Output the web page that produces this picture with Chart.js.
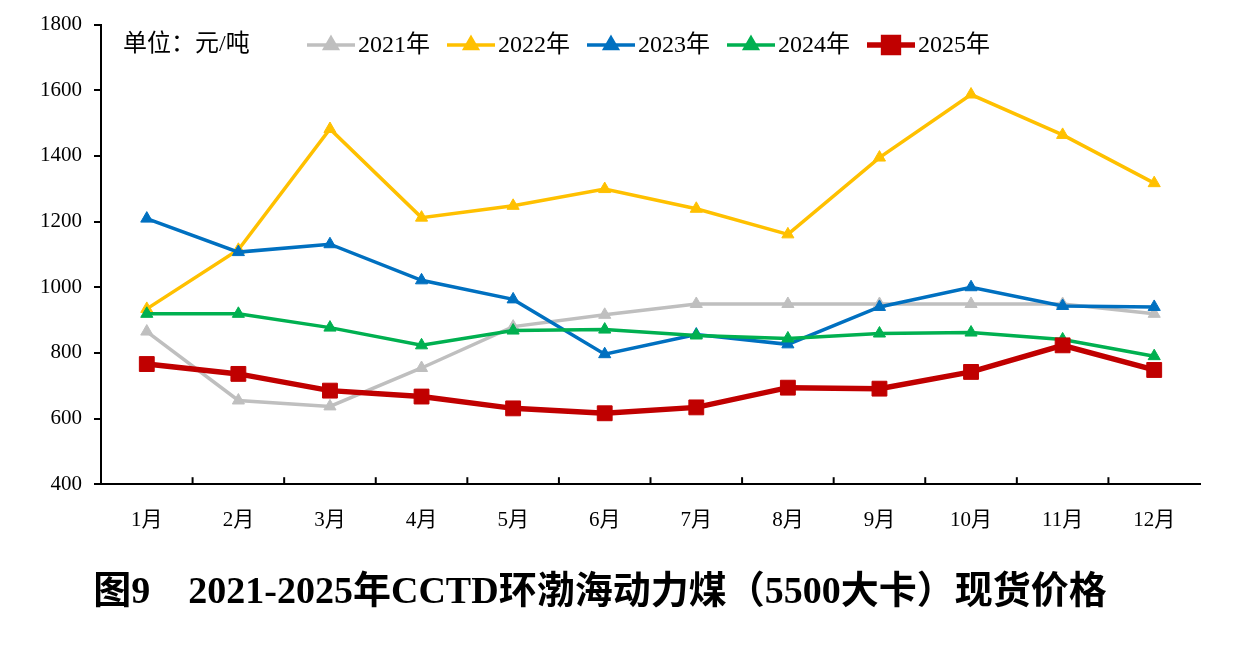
<!DOCTYPE html>
<html>
<head>
<meta charset="utf-8">
<script src="https://cdn.jsdelivr.net/npm/chart.js@4.4.1/dist/chart.umd.min.js"></script>
<style>
  html, body { margin: 0; padding: 0; background: #fff; }
  #wrap { width: 1235px; height: 661px; }
</style>
</head>
<body>
<div id="wrap"><canvas id="chart" width="1235" height="661"></canvas></div>
<script>
const months = ['1月', '2月', '3月', '4月', '5月', '6月', '7月', '8月', '9月', '10月', '11月', '12月'];
const seriesNames = ['2021年', '2022年', '2023年', '2024年', '2025年'];
const y2021 = [865, 655, 637, 754, 880, 916, 949, 949, 949, 949, 949, 919];
const y2022 = [934, 1114, 1482, 1212, 1248, 1299, 1239, 1161, 1395, 1587, 1464, 1317];
const y2023 = [1209, 1107, 1131, 1021, 963, 796, 856, 826, 940, 1000, 943, 940];
const y2024 = [919, 919, 877, 823, 868, 871, 853, 844, 859, 862, 841, 790];
const y2025 = [766, 736, 685, 667, 631, 616, 634, 694, 691, 742, 823, 748];
const yTicks = [400, 600, 800, 1000, 1200, 1400, 1600, 1800];
const unitLabel = '单位：元/吨';
const chartTitle = '图9　2021-2025年CCTD环渤海动力煤（5500大卡）现货价格';

const FONT = "'Liberation Serif', 'Noto Sans CJK SC', serif";
const colors = ['#BFBFBF', '#FFC000', '#0070C0', '#00B050', '#C00000'];
const allData = [y2021, y2022, y2023, y2024, y2025];

const datasets = allData.map((d, i) => {
  const last = i === 4;
  return {
    label: seriesNames[i],
    data: d,
    borderColor: colors[i],
    backgroundColor: colors[i],
    borderWidth: last ? 5.5 : 3.5,
    pointStyle: last ? 'rect' : 'triangle',
    pointRadius: last ? 10.5 : 7,
    pointBorderWidth: 1,
    tension: 0,
    order: 4 - i
  };
});

// legend drawn inside the plot, like the original
const insideLegend = {
  id: 'insideLegend',
  afterDraw(chart) {
    const ctx = chart.ctx;
    const left = chart.chartArea.left;
    const y = 45;
    ctx.save();
    ctx.font = '24px ' + FONT;
    ctx.fillStyle = '#000';
    ctx.textBaseline = 'middle';
    ctx.fillText(unitLabel, left + 22, y);
    chart.data.datasets.forEach((ds, i) => {
      const x0 = left + 206 + i * 140;
      const x1 = x0 + 48;
      ctx.strokeStyle = ds.borderColor;
      ctx.lineWidth = ds.borderWidth;
      ctx.beginPath();
      ctx.moveTo(x0, y);
      ctx.lineTo(x1, y);
      ctx.stroke();
      ctx.fillStyle = ds.backgroundColor;
      Chart.helpers.drawPoint(ctx, {
        pointStyle: ds.pointStyle,
        radius: ds.pointRadius,
        rotation: 0,
        borderWidth: 1
      }, (x0 + x1) / 2, y);
      ctx.fillStyle = '#000';
      ctx.fillText(ds.label, x1 + 3, y + 1);
    });
    ctx.restore();
  }
};

// x-axis tick marks pointing up, between categories
const xTickMarks = {
  id: 'xTickMarks',
  afterDraw(chart) {
    const xs = chart.scales.x;
    const ctx = chart.ctx;
    const bottom = chart.chartArea.bottom;
    ctx.save();
    ctx.strokeStyle = '#000';
    ctx.lineWidth = 2;
    for (let i = 1; i < months.length; i++) {
      const x = (xs.getPixelForValue(i - 1) + xs.getPixelForValue(i)) / 2;
      ctx.beginPath();
      ctx.moveTo(x, bottom);
      ctx.lineTo(x, bottom - 7);
      ctx.stroke();
    }
    ctx.restore();
  }
};

new Chart(document.getElementById('chart').getContext('2d'), {
  type: 'line',
  data: { labels: months, datasets: datasets },
  plugins: [insideLegend, xTickMarks],
  options: {
    responsive: false,
    animation: false,
    layout: { padding: { top: 1, right: 35, left: 0, bottom: 35 } },
    scales: {
      x: {
        offset: true,
        grid: { display: true, drawOnChartArea: false, drawTicks: false, color: 'rgba(0,0,0,0)' },
        border: { color: '#000', width: 2 },
        ticks: { color: '#000', padding: 24, font: { family: FONT, size: 21 }, maxRotation: 0 }
      },
      y: {
        min: 400,
        max: 1800,
        afterBuildTicks: axis => { axis.ticks = yTicks.map(v => ({ value: v })); },
        afterFit: axis => { axis.width = 101; },
        grid: { drawOnChartArea: false, drawTicks: true, tickLength: 7, color: '#000', lineWidth: 2 },
        border: { color: '#000', width: 2 },
        ticks: { color: '#000', padding: 12, font: { family: FONT, size: 21 }, callback: v => String(v) }
      }
    },
    plugins: {
      legend: { display: false },
      tooltip: { enabled: false },
      title: {
        display: true,
        position: 'bottom',
        text: chartTitle,
        color: '#000',
        font: { family: FONT, size: 38, weight: 'bold' },
        padding: { top: 13, bottom: 10 }
      }
    }
  }
});
</script>
</body>
</html>
